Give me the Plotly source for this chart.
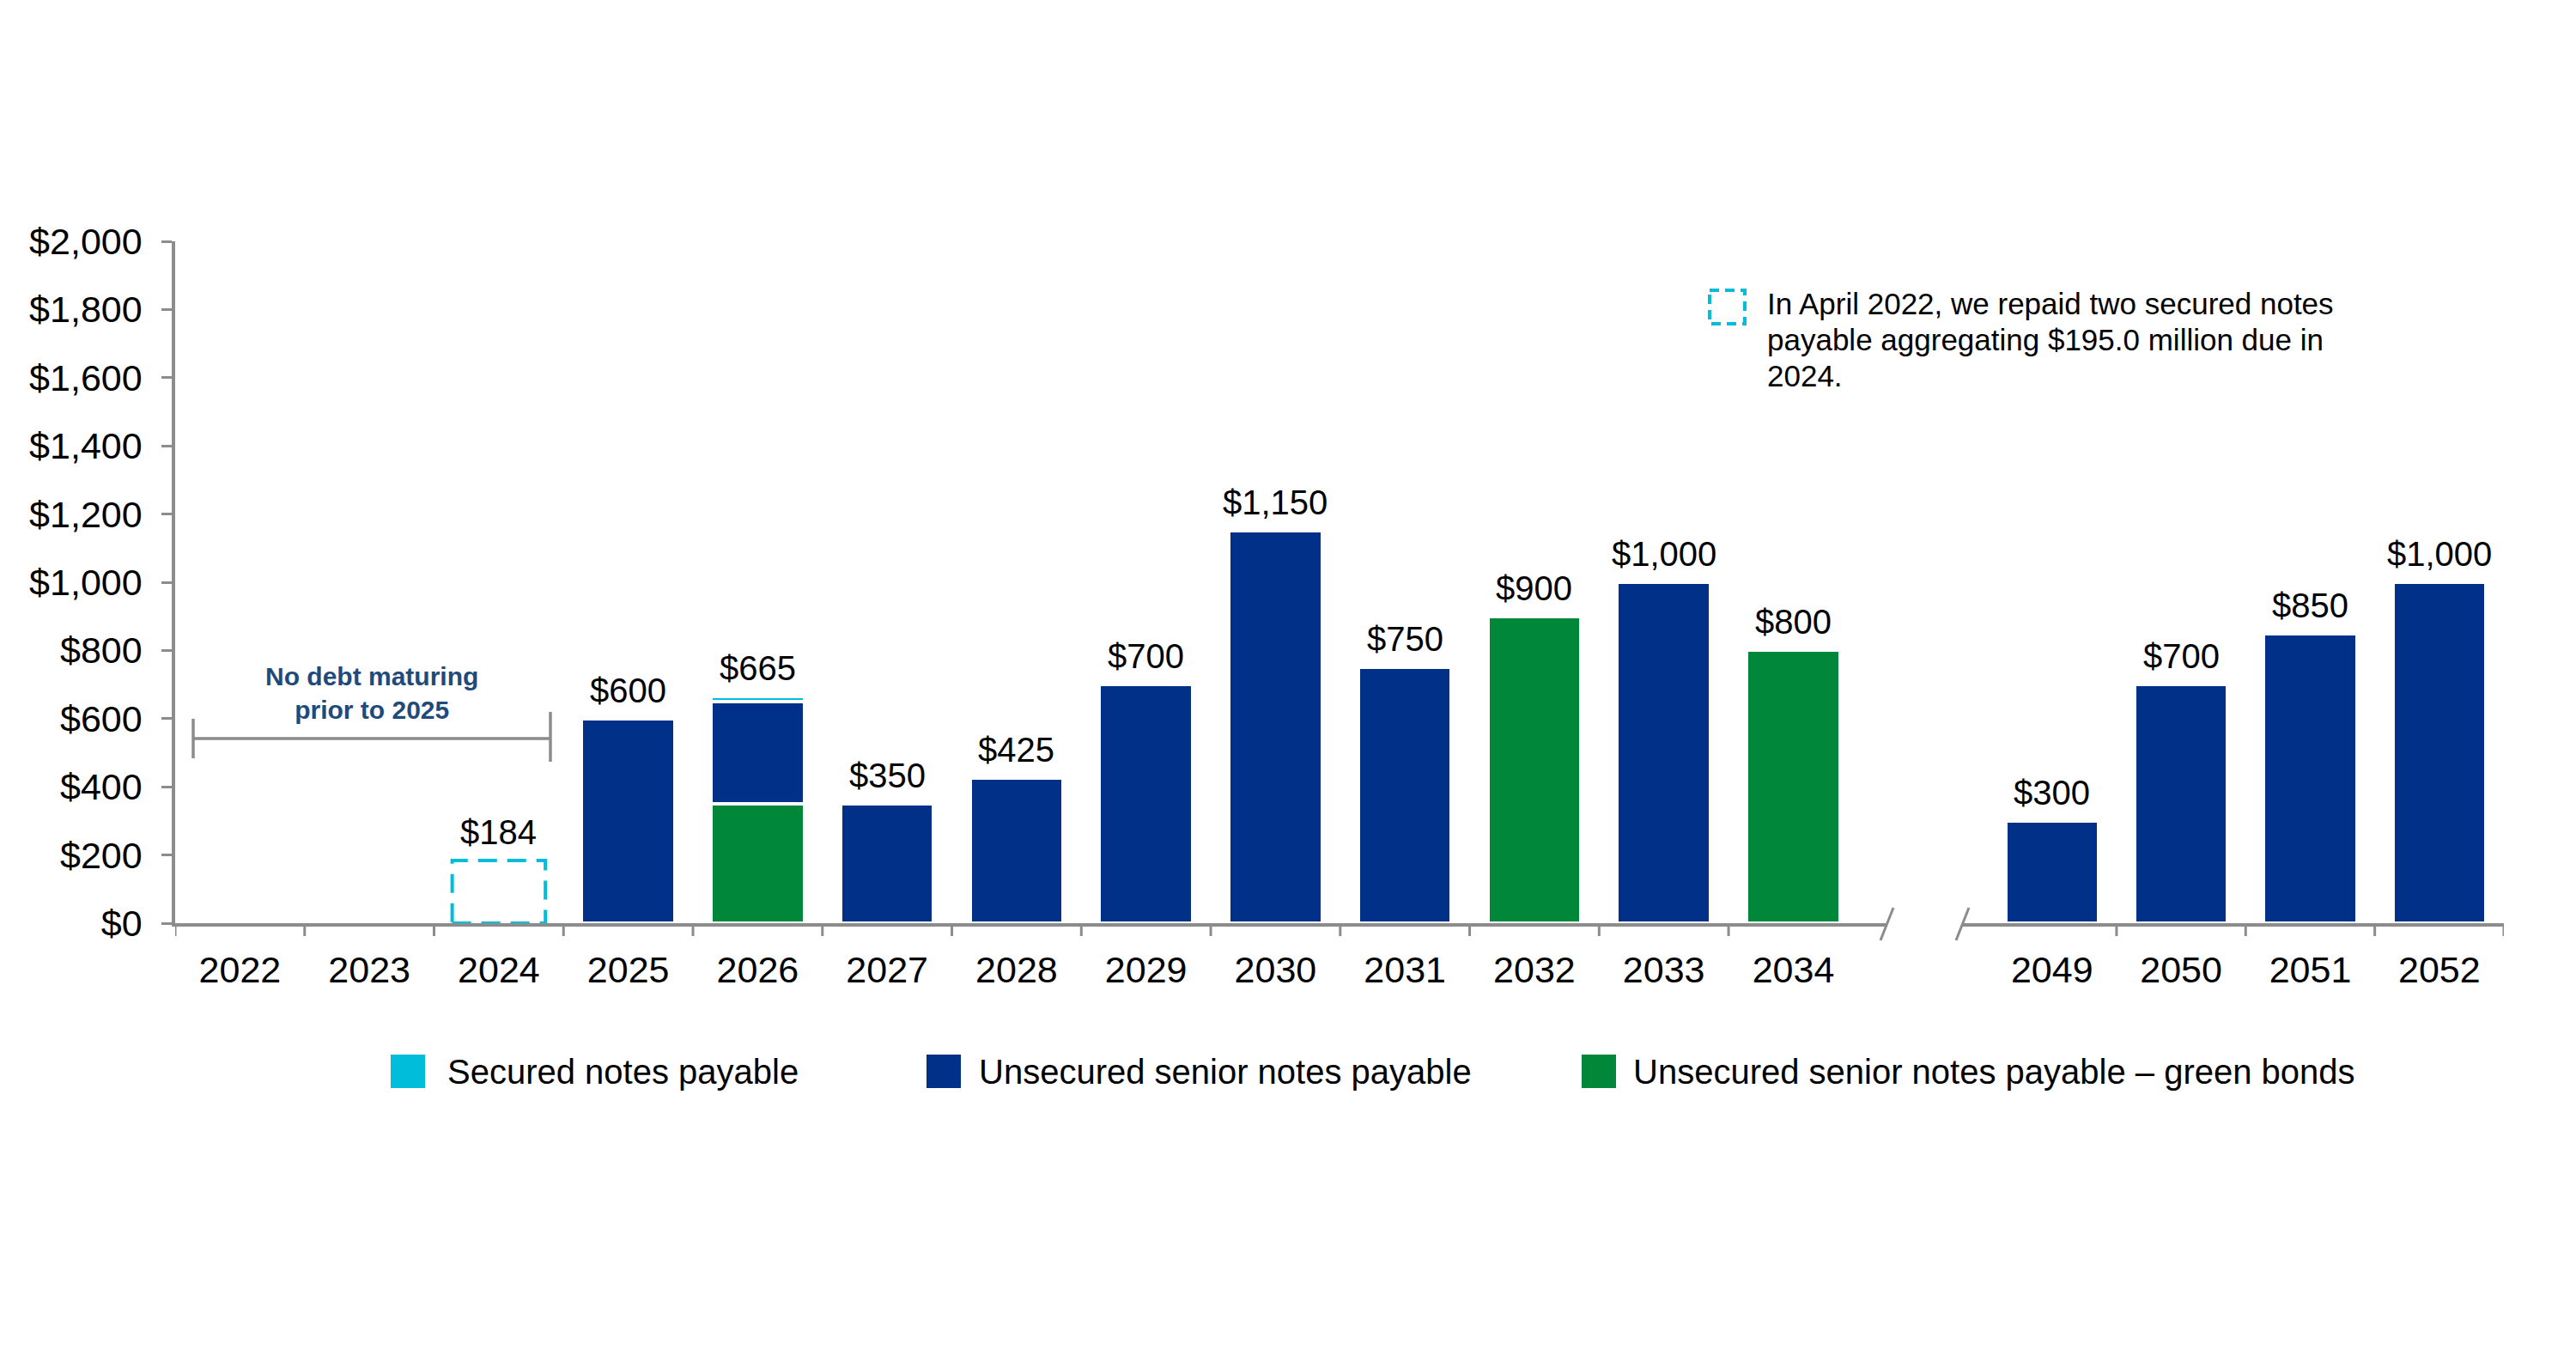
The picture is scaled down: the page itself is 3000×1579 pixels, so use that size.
import plotly.graph_objects as go

W, H = 3000, 1579
OFF = 8  # page body margin

# ---------------- data ----------------
years_near = ["2022", "2023", "2024", "2025", "2026", "2027", "2028",
              "2029", "2030", "2031", "2032", "2033", "2034"]
years_far = ["2049", "2050", "2051", "2052"]

secured_near = [None, None, None, None, 15, None, None, None, None, None, None, None, None]
repaid_secured_near = [None, None, 184, None, None, None, None, None, None, None, None, None, None]
unsecured_near = [None, None, None, 600, 300, 350, 425, 700, 1150, 750, None, 1000, None]
green_near = [None, None, None, None, 350, None, None, None, None, None, 900, None, 800]

unsecured_far = [300, 700, 850, 1000]

y_ticks = [0, 200, 400, 600, 800, 1000, 1200, 1400, 1600, 1800, 2000]
y_tick_text = ["$0", "$200", "$400", "$600", "$800", "$1,000", "$1,200",
               "$1,400", "$1,600", "$1,800", "$2,000"]

legend_names = ["Secured notes payable", "Unsecured senior notes payable",
                "Unsecured senior notes payable \u2013 green bonds"]
note_lines = ["In April 2022, we repaid two secured notes",
              "payable aggregating $195.0 million due in",
              "2024."]
bracket_text = "<b>No debt maturing<br>prior to 2025</b>"

# ---------------- styles ----------------
CYAN = "#00BED9"
NAVY = "#003087"
GREEN = "#00873A"
GRAY = "#8C8C8C"
FONT = "Arial, Liberation Sans, sans-serif"
BAR_LINE = dict(color="white", width=4)

def px_x(v):
    return (v - OFF) / W

def px_y(v):
    return 1 - (v - OFF) / H

fig = go.Figure()

# near segment (stack order: green bottom, navy, cyan top)
fig.add_trace(go.Bar(x=years_near, y=green_near, name=legend_names[2],
                     marker=dict(color=GREEN, line=BAR_LINE), xaxis="x", yaxis="y",
                     showlegend=False))
fig.add_trace(go.Bar(x=years_near, y=unsecured_near, name=legend_names[1],
                     marker=dict(color=NAVY, line=BAR_LINE), xaxis="x", yaxis="y",
                     showlegend=False))
fig.add_trace(go.Bar(x=years_near, y=secured_near, name=legend_names[0],
                     marker=dict(color=CYAN, line=BAR_LINE), xaxis="x", yaxis="y",
                     showlegend=False))
# far segment
fig.add_trace(go.Bar(x=years_far, y=unsecured_far, name=legend_names[1],
                     marker=dict(color=NAVY, line=BAR_LINE), xaxis="x2", yaxis="y",
                     showlegend=False))

BARGAP = 0.28
half_w = (1 - BARGAP) / 2

shapes = []
annotations = []

# repaid secured notes (dashed outline) drawn from data
for i, v in enumerate(repaid_secured_near):
    if v:
        shapes.append(dict(type="rect", xref="x", yref="y",
                           x0=i - half_w, x1=i + half_w, y0=0, y1=v,
                           line=dict(color=CYAN, width=4, dash="22px,12px"),
                           fillcolor="rgba(0,0,0,0)"))

# totals labels (category index positions)
LABEL_FONT = dict(family=FONT, size=40, color="black")
for i, yr in enumerate(years_near):
    parts = [secured_near[i], unsecured_near[i], green_near[i]]
    tot = sum(p for p in parts if p)
    if not tot and repaid_secured_near[i]:
        tot = repaid_secured_near[i]
    if tot:
        annotations.append(dict(x=i, y=tot, xref="x", yref="y", text=f"${tot:,}",
                                showarrow=False, yanchor="middle", yshift=33,
                                font=LABEL_FONT))
for j, v in enumerate(unsecured_far):
    annotations.append(dict(x=j, y=v, xref="x2", yref="y", text=f"${v:,}",
                            showarrow=False, yanchor="middle", yshift=33,
                            font=LABEL_FONT))

# category-boundary tick marks
TICK = dict(color=GRAY, width=3)
for i in range(len(years_near)):
    shapes.append(dict(type="line", xref="x", yref="paper",
                       x0=i - 0.5, x1=i - 0.5, y0=px_y(1075), y1=px_y(1090), line=TICK))
for j in range(len(years_far)):
    shapes.append(dict(type="line", xref="x2", yref="paper",
                       x0=j + 0.5, x1=j + 0.5, y0=px_y(1075), y1=px_y(1090), line=TICK))

# axis break slashes
for (xa, ya, xb, yb) in [(2205, 1057, 2190, 1095), (2293, 1057, 2278, 1095)]:
    shapes.append(dict(type="line", xref="paper", yref="paper",
                       x0=px_x(xa), y0=px_y(ya), x1=px_x(xb), y1=px_y(yb),
                       line=dict(color=GRAY, width=3)))

# bracket "No debt maturing prior to 2025"
shapes.append(dict(type="line", xref="paper", yref="paper",
                   x0=px_x(225), x1=px_x(641), y0=px_y(860), y1=px_y(860),
                   line=dict(color=GRAY, width=3.5)))
shapes.append(dict(type="line", xref="paper", yref="paper",
                   x0=px_x(225), x1=px_x(225), y0=px_y(837), y1=px_y(883),
                   line=dict(color=GRAY, width=3.5)))
shapes.append(dict(type="line", xref="paper", yref="paper",
                   x0=px_x(641), x1=px_x(641), y0=px_y(829), y1=px_y(887),
                   line=dict(color=GRAY, width=3.5)))
annotations.append(dict(x=px_x(433), y=px_y(807), xref="paper", yref="paper",
                        text=bracket_text, showarrow=False, xanchor="center",
                        yanchor="middle", align="center",
                        font=dict(family=FONT, size=30, color="#1F4A7C")))

# note box at top right
shapes.append(dict(type="rect", xref="paper", yref="paper",
                   x0=px_x(1991), x1=px_x(2032), y0=px_y(338), y1=px_y(377),
                   line=dict(color=CYAN, width=4, dash="11px,7px"),
                   fillcolor="rgba(0,0,0,0)"))
for k, line in enumerate(note_lines):
    annotations.append(dict(x=px_x(2056), y=px_y(353 + 42 * k), xref="paper", yref="paper",
                            text=line, showarrow=False, xanchor="left",
                            yanchor="middle", align="left",
                            font=dict(family=FONT, size=35, color="black")))

# custom legend
legend_items = [(CYAN, 455, 519), (NAVY, 1079, 1138), (GREEN, 1842, 1900)]
for (col, sx, tx), name in zip(legend_items, legend_names):
    shapes.append(dict(type="rect", xref="paper", yref="paper",
                       x0=px_x(sx), x1=px_x(sx + 40), y0=px_y(1228), y1=px_y(1267),
                       line=dict(width=0), fillcolor=col))
    annotations.append(dict(x=px_x(tx), y=px_y(1248), xref="paper", yref="paper",
                            text=name, showarrow=False, xanchor="left",
                            yanchor="middle",
                            font=dict(family=FONT, size=40, color="black")))

xaxis_common = dict(type="category", ticks="", showline=True,
                    linecolor=GRAY, linewidth=3.5, showgrid=False, zeroline=False,
                    anchor="y", ticklabelstandoff=14,
                    tickfont=dict(family=FONT, size=43, color="black"),
                    automargin=False, fixedrange=True)

fig.update_layout(
    width=W, height=H,
    margin=dict(l=0, r=0, t=0, b=0, autoexpand=False),
    paper_bgcolor="white", plot_bgcolor="white",
    barmode="stack", bargap=BARGAP,
    showlegend=False,
    xaxis=dict(domain=[px_x(204), px_x(2197)], range=[-0.5, 12.72],
               categoryorder="array", categoryarray=years_near, **xaxis_common),
    xaxis2=dict(domain=[px_x(2286), px_x(2916)], range=[-0.69, 3.5],
                categoryorder="array", categoryarray=years_far, **xaxis_common),
    yaxis=dict(domain=[px_y(1075), px_y(281)], range=[0, 2000],
               tickmode="array", tickvals=y_ticks, ticktext=y_tick_text,
               ticks="outside", ticklen=12, tickwidth=3, tickcolor=GRAY,
               showline=True, linecolor=GRAY, linewidth=3.5, showgrid=False,
               zeroline=False, ticklabelstandoff=14,
               tickfont=dict(family=FONT, size=43, color="black"),
               automargin=False, fixedrange=True),
    shapes=shapes,
    annotations=annotations,
)

fig.write_html("out.html")
